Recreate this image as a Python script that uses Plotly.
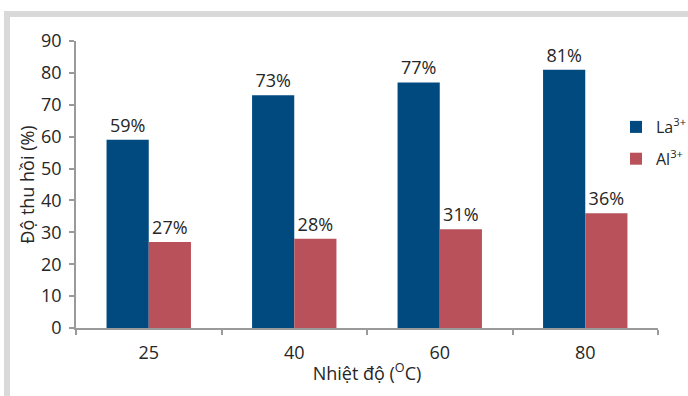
import plotly.graph_objects as go

# Recovery (%) of each ion at each leaching temperature
temperatures = ["25", "40", "60", "80"]
la_recovery = [59, 73, 77, 81]
al_recovery = [27, 28, 31, 36]

BLUE = "#004a80"
RED = "#b9515a"
TEXT = "#262626"
AXIS = "#9a9a9a"
FONT = "Open Sans"

W, H = 688, 396
L, R, T, B = 76, 30, 41, 68
pw, ph = W - L - R, H - T - B


def px_x(x):
    return (x - L) / pw


def px_y(y):
    return (H - B - y) / ph


fig = go.Figure()
fig.add_trace(go.Bar(
    x=temperatures, y=la_recovery, name="La<sup>3+</sup>",
    marker=dict(color=BLUE, line=dict(width=0)),
    text=[f"{v}%" for v in la_recovery], textposition="outside",
    textfont=dict(size=18, color=TEXT, family=FONT), cliponaxis=False,
    legendgroup="la",
))
fig.add_trace(go.Bar(
    x=temperatures, y=al_recovery, name="Al<sup>3+</sup>",
    marker=dict(color=RED, line=dict(width=0)),
    text=[f"{v}%" for v in al_recovery], textposition="outside",
    textfont=dict(size=18, color=TEXT, family=FONT), cliponaxis=False,
    legendgroup="al",
))

# light grey frame along the top and left edges
frame = dict(type="rect", xref="paper", yref="paper", line=dict(width=0),
             fillcolor="#d9d9d9", layer="below")
fig.add_shape(**frame, x0=px_x(4), x1=px_x(W + 2), y0=px_y(17), y1=px_y(11))
fig.add_shape(**frame, x0=px_x(4), x1=px_x(10), y0=px_y(H + 2), y1=px_y(11))

fig.update_layout(
    width=W, height=H,
    margin=dict(l=L, r=R, t=T, b=B, autoexpand=False),
    paper_bgcolor="white", plot_bgcolor="white",
    barmode="group", bargap=0.42, bargroupgap=0,
    font=dict(family=FONT, size=18, color=TEXT),
    showlegend=True,
    legend=dict(x=px_x(616), y=px_y(110), xanchor="left", yanchor="top",
                font=dict(size=16, color=TEXT, family=FONT),
                traceorder="grouped", tracegroupgap=8,
                itemwidth=30, bgcolor="rgba(0,0,0,0)"),
    xaxis=dict(
        type="category", tickson="boundaries", ticks="outside", ticklen=5,
        tickcolor=AXIS, tickwidth=1.5, showline=True, linecolor=AXIS, linewidth=1.5,
        showgrid=False, tickfont=dict(size=18, color=TEXT), ticklabelstandoff=8,
        title=dict(text="Nhiệt độ (<sup>O</sup>C)", font=dict(size=18, color=TEXT), standoff=4),
    ),
    yaxis=dict(
        range=[0, 90], dtick=10, ticks="outside", ticklen=5,
        tickcolor=AXIS, tickwidth=1.5, showline=True, linecolor=AXIS, linewidth=1.5,
        showgrid=False, zeroline=False, tickfont=dict(size=18, color=TEXT),
        ticklabelstandoff=4,
        title=dict(text="Độ thu hồi (%)", font=dict(size=18, color=TEXT), standoff=2),
    ),
)

fig.write_html("out.html")
